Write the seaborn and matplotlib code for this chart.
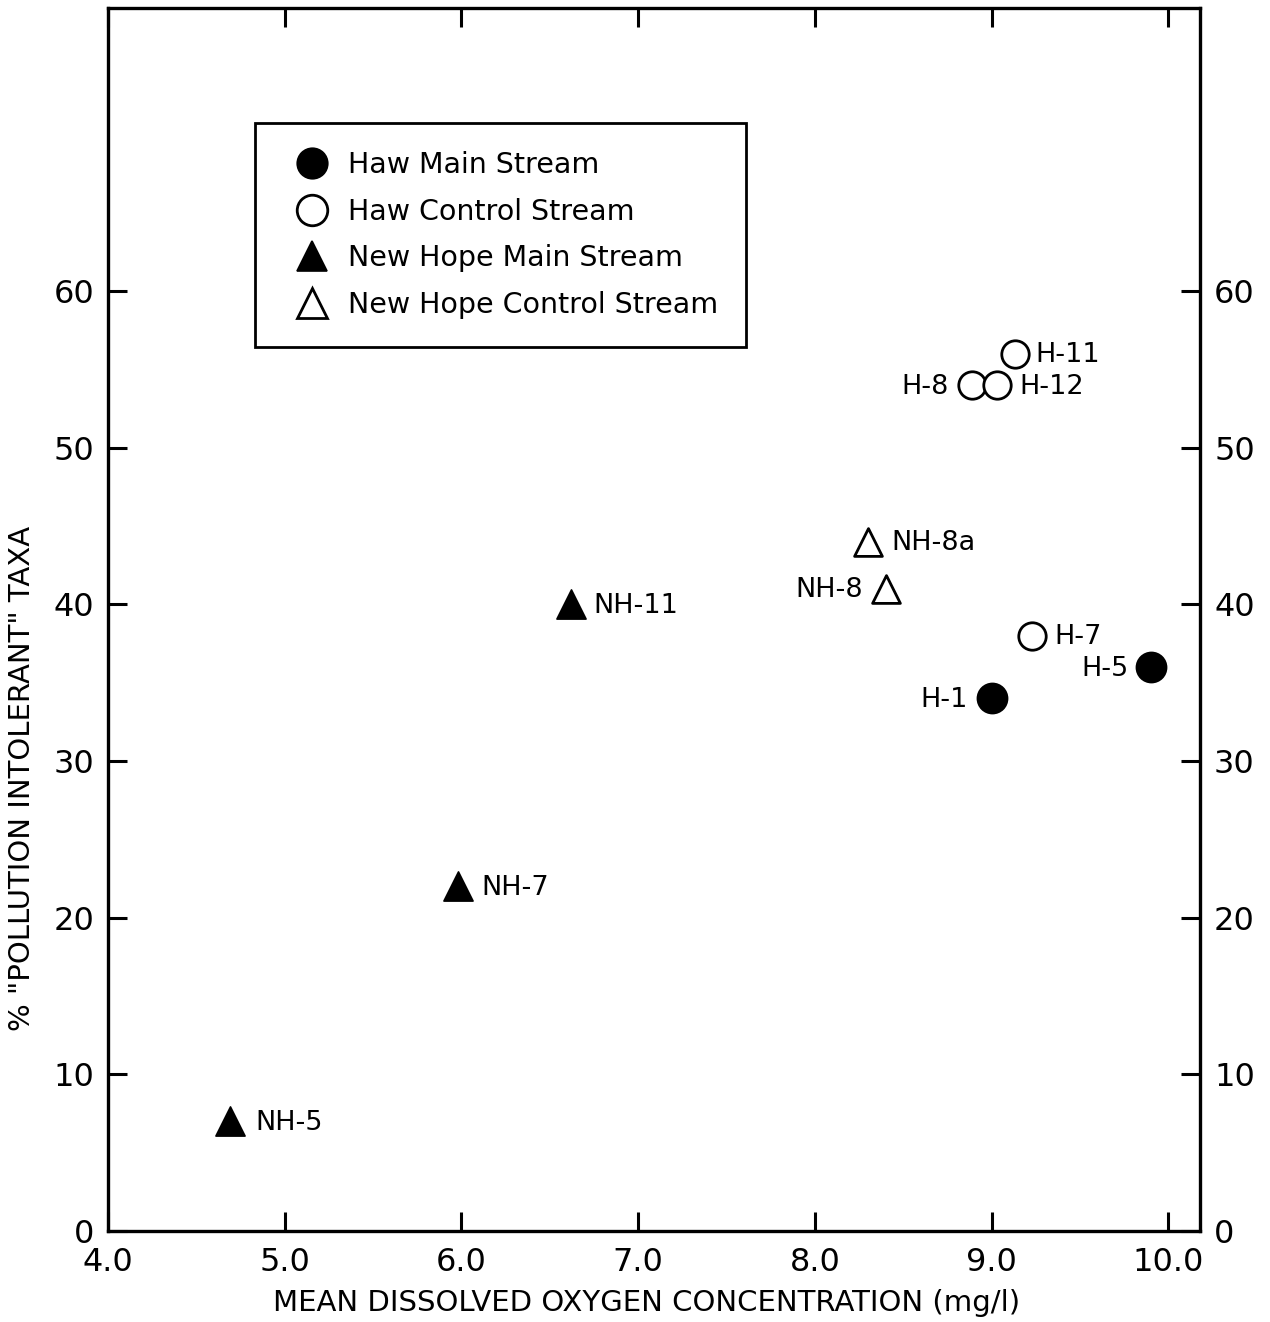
import matplotlib
matplotlib.use("Agg")
import matplotlib.pyplot as plt
from matplotlib.lines import Line2D
import seaborn as sns
import pandas as pd

# Station data: mean dissolved oxygen (mg/l) vs % "pollution intolerant" taxa
groups = ["Haw Main Stream", "Haw Control Stream", "New Hope Main Stream", "New Hope Control Stream"]

haw_main_sites = ["H-1", "H-5"]
haw_main_do = [9.0, 9.9]
haw_main_pct = [34, 36]

haw_ctrl_sites = ["H-7", "H-11", "H-8", "H-12"]
haw_ctrl_do = [9.23, 9.13, 8.89, 9.03]
haw_ctrl_pct = [38, 56, 54, 54]

nh_main_sites = ["NH-5", "NH-7", "NH-11"]
nh_main_do = [4.69, 5.98, 6.62]
nh_main_pct = [7, 22, 40]

nh_ctrl_sites = ["NH-8a", "NH-8"]
nh_ctrl_do = [8.3, 8.4]
nh_ctrl_pct = [44, 41]

x_ticks = [4.0, 5.0, 6.0, 7.0, 8.0, 9.0, 10.0]
y_ticks = [0, 10, 20, 30, 40, 50, 60]

sns.set_style("ticks")
plt.rcParams["font.family"] = ["DejaVu Sans"]
plt.rcParams.update({
    "text.color": "black", "axes.labelcolor": "black", "axes.edgecolor": "black",
    "xtick.color": "black", "ytick.color": "black",
})

frames = []
for g, sites, xs, ys in [
    (groups[0], haw_main_sites, haw_main_do, haw_main_pct),
    (groups[1], haw_ctrl_sites, haw_ctrl_do, haw_ctrl_pct),
    (groups[2], nh_main_sites, nh_main_do, nh_main_pct),
    (groups[3], nh_ctrl_sites, nh_ctrl_do, nh_ctrl_pct),
]:
    frames.append(pd.DataFrame({"group": g, "site": sites, "do": xs, "pct": ys}))
df = pd.concat(frames, ignore_index=True)

style = {
    groups[0]: dict(marker="o", fc="black", s=470, lw=1.2),
    groups[1]: dict(marker="o", fc="white", s=390, lw=2.0),
    groups[2]: dict(marker="^", fc="black", s=440, lw=1.2),
    groups[3]: dict(marker="^", fc="white", s=400, lw=2.0),
}

fig = plt.figure(figsize=(12.7, 13.22), dpi=100)
ax = fig.add_axes([0.085, 0.069, 0.86, 0.925])

for g in groups:
    sub = df[df["group"] == g]
    st = style[g]
    sns.scatterplot(data=sub, x="do", y="pct", marker=st["marker"], s=st["s"],
                    color=st["fc"], edgecolor="black", linewidth=st["lw"], ax=ax,
                    zorder=3, legend=False)

# Site labels: offset in points and alignment
label_pos = {
    "NH-5": (18, "left"), "NH-7": (17, "left"), "NH-11": (16, "left"),
    "NH-8a": (17, "left"), "NH-8": (-16, "right"),
    "H-1": (-17, "right"), "H-5": (-16, "right"),
    "H-7": (16, "left"), "H-11": (15, "left"),
    "H-8": (-17, "right"), "H-12": (16, "left"),
}
for _, r in df.iterrows():
    dx, ha = label_pos[r["site"]]
    ax.annotate(r["site"], (r["do"], r["pct"]), xytext=(dx, -1),
                textcoords="offset points", ha=ha, va="center", fontsize=19.5)

ax.set_xlim(4.0, 10.18)
ax.set_ylim(0, 78.1)
ax.set_xticks(x_ticks)
ax.set_xticklabels([f"{v:.1f}" for v in x_ticks])
ax.set_yticks(y_ticks)
ax.set_yticklabels([str(v) for v in y_ticks])
ax.tick_params(axis="both", which="both", direction="in", length=14, width=2.2,
               labelsize=23, top=True, right=True, labelright=True, pad=10)
ax.tick_params(axis="x", pad=12)
for sp in ax.spines.values():
    sp.set_linewidth(2.4)
    sp.set_visible(True)

ax.set_xlabel("MEAN DISSOLVED OXYGEN CONCENTRATION (mg/l)", fontsize=21)
ax.set_ylabel('% "POLLUTION INTOLERANT" TAXA', fontsize=21)
ax.xaxis.set_label_coords(0.4936, -0.0474)
ax.yaxis.set_label_coords(-0.066, 0.37)

handles = [
    Line2D([], [], marker=style[g]["marker"], linestyle="none",
           markersize=22 if style[g]["marker"] == "o" else 21,
           markerfacecolor=style[g]["fc"], markeredgecolor="black",
           markeredgewidth=style[g]["lw"])
    for g in groups
]
leg = ax.legend(handles, groups, loc="upper left", bbox_to_anchor=(0.1346, 0.906),
                borderaxespad=0, fontsize=20.5, frameon=True, fancybox=False,
                framealpha=1.0, edgecolor="black", borderpad=1.0, labelspacing=0.65,
                handletextpad=0.26, handlelength=2.0)
leg.get_frame().set_linewidth(2.0)

fig.savefig("out.png", dpi=100)
